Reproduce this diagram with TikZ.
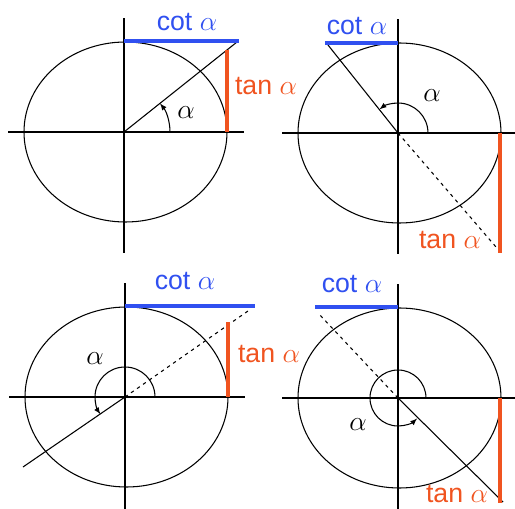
\documentclass[tikz,border=0pt]{standalone}
\usepackage{fontspec}
\setmainfont{Liberation Sans}
\usepackage{tikz}
\usetikzlibrary{arrows}
\usetikzlibrary{arrows.meta}
\definecolor{cotblue}{RGB}{48,80,240}
\definecolor{tanred}{RGB}{240,84,32}
\newcommand{\ta}{tan $\alpha$}
\newcommand{\ct}{cot $\alpha$}
\newcommand{\trigframe}{%
\draw[thin line] (1.5,0) ellipse [x radius=101.5, y radius=90];
\draw[thin line] (-116,0) -- (120,0);
\draw[thin line] (0,-121) -- (0,114);}

\begin{document}
\begin{tikzpicture}[x=0.75pt,y=0.75pt]
\tikzstyle{every node}=[inner sep=0pt,anchor=base,font=\fontsize{20}{24}\selectfont]
\tikzstyle{thin line}=[line width=0.8pt]
\tikzstyle{cotline}=[line width=2.4pt,draw=cotblue]
\tikzstyle{tanline}=[line width=2.4pt,draw=tanred]
\tikzstyle{ext}=[line width=0.8pt,dash pattern=on 2.5pt off 3pt]
\tikzstyle{ang}=[line width=0.8pt,arrows={-latex}]
\useasboundingbox (0,0) rectangle (515,508);
% first quadrant
\begin{scope}[shift={(124,376)}]
\trigframe
\coordinate (o1) at (0,0);
\coordinate (c1) at (0,91);
\coordinate (d1) at (115,91);
\coordinate (t1) at (103,0);
\coordinate (u1) at (103,82);
\coordinate (p1) at (113,90);
\draw[thin line] (o1) -- (p1);
\draw[cotline] (c1) -- (d1);
\draw[tanline] (t1) -- (u1);
\draw[ang] (46,0) arc [start angle=0, end angle=38.5, radius=46];
\node[text=cotblue] (cot1) at (63,101) {\ct};
\node[text=tanred] (tan1) at (142,37) {\ta};
\node (a1) at (62,13) {$\alpha$};
\end{scope}
% second quadrant
\begin{scope}[shift={(398,375)}]
\trigframe
\coordinate (o2) at (0,0);
\coordinate (c2) at (-73,90);
\coordinate (d2) at (0,90);
\coordinate (t2) at (102,0);
\coordinate (u2) at (102,-120);
\coordinate (p2) at (-70,88);
\coordinate (q2) at (98,-114);
\draw[thin line] (o2) -- (p2);
\draw[ext] (o2) -- (q2);
\draw[cotline] (c2) -- (d2);
\draw[tanline] (t2) -- (u2);
\draw[ang] (30,0) arc [start angle=0, end angle=128, radius=30];
\node[text=cotblue] (cot2) at (-41,98) {\ct};
\node[text=tanred] (tan2) at (52,-116) {\ta};
\node (a2) at (34,31) {$\alpha$};
\end{scope}
% third quadrant
\begin{scope}[shift={(125,111)}]
\trigframe
\coordinate (o3) at (0,0);
\coordinate (c3) at (0,91);
\coordinate (d3) at (130,91);
\coordinate (t3) at (103,0);
\coordinate (u3) at (103,75);
\coordinate (p3) at (-102,-70);
\coordinate (q3) at (123,86);
\draw[thin line] (o3) -- (p3);
\draw[ext] (o3) -- (q3);
\draw[cotline] (c3) -- (d3);
\draw[tanline] (t3) -- (u3);
\draw[ang] (30,0) arc [start angle=0, end angle=215, radius=30];
\node[text=cotblue] (cot3) at (60,107) {\ct};
\node[text=tanred] (tan3) at (144,34) {\ta};
\node (a3) at (-30,32) {$\alpha$};
\end{scope}
% fourth quadrant
\begin{scope}[shift={(398,110)}]
\trigframe
\coordinate (o4) at (0,0);
\coordinate (c4) at (-83,91);
\coordinate (d4) at (0,91);
\coordinate (t4) at (102,0);
\coordinate (u4) at (102,-105);
\coordinate (p4) at (105,-104);
\coordinate (q4) at (-80,85);
\draw[thin line] (o4) -- (p4);
\draw[ext] (o4) -- (q4);
\draw[cotline] (c4) -- (d4);
\draw[tanline] (t4) -- (u4);
\draw[ang] (28,0) arc [start angle=0, end angle=313, radius=28];
\node[text=cotblue] (cot4) at (-46,105) {\ct};
\node[text=tanred] (tan4) at (59,-104) {\ta};
\node (a4) at (-40,-32) {$\alpha$};
\end{scope}
\end{tikzpicture}
\end{document}
